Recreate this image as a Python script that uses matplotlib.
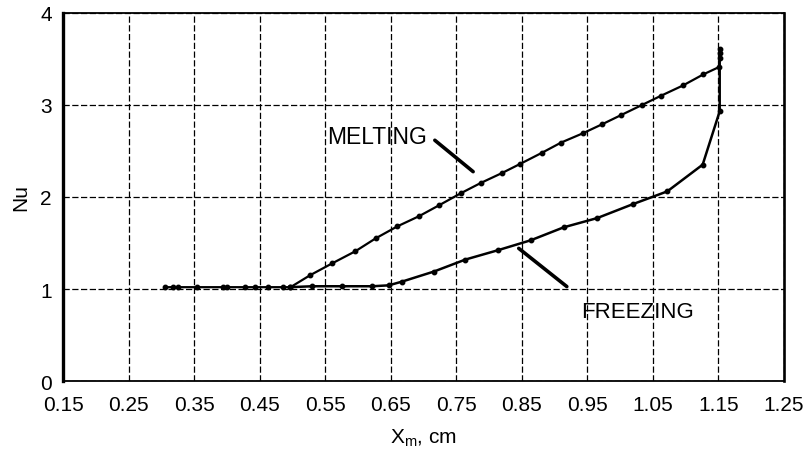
import matplotlib.pyplot as plt

plt.rcParams['font.family'] = ['Liberation Sans', 'DejaVu Sans']

# melting curve: flat start then rising to x_m = 1.15
melt_x = [0.306, 0.317, 0.326, 0.355, 0.394, 0.400, 0.428, 0.443, 0.462, 0.486, 0.497,
          0.527, 0.561, 0.596, 0.627, 0.660, 0.693, 0.724, 0.757, 0.787, 0.820, 0.848,
          0.881, 0.910, 0.943, 0.973, 1.002, 1.034, 1.063, 1.096, 1.127, 1.151]
melt_y = [1.02, 1.02, 1.02, 1.02, 1.02, 1.02, 1.02, 1.02, 1.02, 1.02, 1.02,
          1.15, 1.28, 1.41, 1.55, 1.68, 1.79, 1.91, 2.04, 2.15, 2.26, 2.36,
          2.48, 2.59, 2.69, 2.79, 2.89, 3.00, 3.10, 3.21, 3.33, 3.41]

# freezing curve: starts at the top of x_m = 1.15 and comes back down
freeze_x = [1.152, 1.152, 1.152, 1.152, 1.126, 1.072, 1.019, 0.965, 0.914, 0.864,
            0.813, 0.764, 0.716, 0.667, 0.647, 0.622, 0.576, 0.530, 0.497]
freeze_y = [3.61, 3.56, 3.51, 2.93, 2.35, 2.06, 1.92, 1.77, 1.67, 1.53,
            1.42, 1.32, 1.19, 1.08, 1.04, 1.03, 1.03, 1.03, 1.02]

xticks = [0.15, 0.25, 0.35, 0.45, 0.55, 0.65, 0.75, 0.85, 0.95, 1.05, 1.15, 1.25]
yticks = [0, 1, 2, 3, 4]


def main():
  fig = plt.figure(figsize=(8.09, 4.56), dpi=100)
  ax = fig.add_axes([0.078, 0.162, 0.891, 0.808])

  ax.plot(melt_x, melt_y, '-o', color='black', lw=1.6, ms=3.2)
  ax.plot(freeze_x, freeze_y, '-o', color='black', lw=1.8, ms=3.2)

  ax.set_xlim(0.15, 1.25)
  ax.set_ylim(0, 4)
  ax.set_xticks(xticks)
  ax.set_xticklabels(['%.2f' % t for t in xticks])
  ax.set_yticks(yticks)
  ax.tick_params(axis='x', length=0, labelsize=15, pad=10)
  ax.tick_params(axis='y', length=0, labelsize=15, pad=8)
  ax.grid(True, color='black', ls=(0, (5, 2)), lw=0.9)

  for side, w in [('left', 2.4), ('right', 1.9), ('top', 1.3), ('bottom', 1.3)]:
    ax.spines[side].set_linewidth(w)

  ax.set_ylabel('Nu', fontsize=15, labelpad=7)
  ax.set_xlabel(r'$\mathregular{X_m}$, cm', fontsize=15, labelpad=9)

  # curve labels with leader lines
  ax.annotate('', xy=(0.779, 2.255), xytext=(0.714, 2.634),
              arrowprops=dict(arrowstyle='-', color='black', lw=2.6))
  ax.text(0.553, 2.656, 'MELTING', fontsize=16.5, va='center', ha='left')
  ax.annotate('', xy=(0.842, 1.46), xytext=(0.922, 1.008),
              arrowprops=dict(arrowstyle='-', color='black', lw=2.6))
  ax.text(0.940, 0.760, 'FREEZING', fontsize=16, va='center', ha='left')

  fig.savefig('out.png', dpi=100)


if __name__ == "__main__":
  main()
